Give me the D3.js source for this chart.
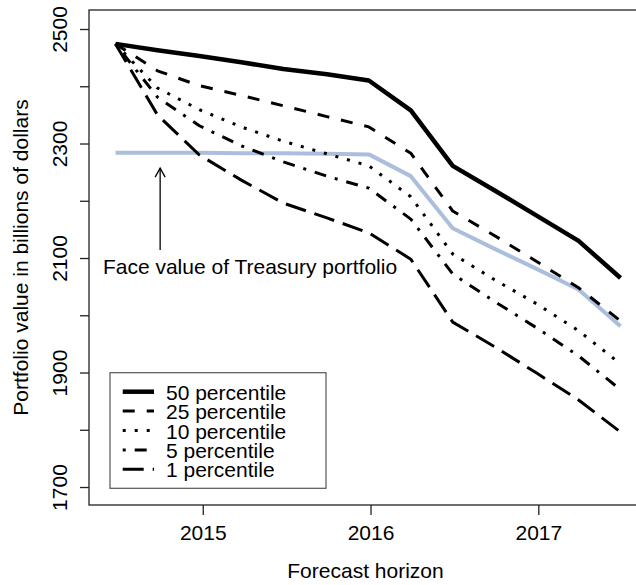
<!DOCTYPE html>
<html>
<head>
<meta charset="utf-8">
<script src="https://cdn.jsdelivr.net/npm/d3@7/dist/d3.min.js"></script>
<style>
  html, body { margin: 0; padding: 0; background: #fff; }
  svg { display: block; }
  text { font-family: "Liberation Sans", Arial, Helvetica, sans-serif; fill: #000; }
</style>
</head>
<body>
<svg id="chart" width="636" height="585"></svg>
<script>
// ---- data ----
const times = [2014.48, 2014.73, 2014.98, 2015.23, 2015.48, 2015.74, 2015.99, 2016.24, 2016.49, 2016.74, 2016.99, 2017.24, 2017.49];
const p50  = [2474, 2463, 2453, 2442, 2430, 2421, 2410, 2358, 2261, 2218, 2174, 2130, 2065];
const p25  = [2474, 2427, 2401, 2384, 2366, 2347, 2329, 2283, 2182, 2139, 2094, 2048, 1990];
const p10  = [2474, 2397, 2359, 2329, 2304, 2282, 2261, 2207, 2107, 2062, 2020, 1973, 1915];
const p5   = [2474, 2381, 2331, 2296, 2268, 2243, 2222, 2168, 2072, 2024, 1978, 1929, 1870];
const p1   = [2474, 2350, 2280, 2236, 2196, 2170, 2144, 2098, 1988, 1945, 1899, 1852, 1796];
const faceValue = [2284, 2284, 2284, 2283, 2283, 2282, 2281, 2243, 2152, 2116, 2081, 2045, 1981];
const seriesNames = ["50 percentile", "25 percentile", "10 percentile", "5 percentile", "1 percentile"];
const xTickValues = [2015, 2016, 2017];
const yTickValues = [1700, 1800, 1900, 2000, 2100, 2200, 2300, 2400, 2500];
const yTickLabels = [1700, 1900, 2100, 2300, 2500];
const annotationText = "Face value of Treasury portfolio";
const annotationAt = [2014.746, 2257];  // arrow tip (time, value)
const annotationFrom = 2114;            // arrow tail value

// ---- layout ----
const svg = d3.select("#chart");
const L = 89, R = 642, T = 10, B = 505;
const x = d3.scaleLinear().domain([2014.322, 2017.618]).range([L, R]);
const y = d3.scaleLinear().domain([1668.6, 2533.2]).range([B, T]);
const FS = 21;

const styles = [
  { w: 4.5, dash: null },
  { w: 3, dash: "12,12" },
  { w: 3, dash: "3,9" },
  { w: 3, dash: "3,9,12,9" },
  { w: 3, dash: "21,9" }
];
const series = [p50, p25, p10, p5, p1];

// face value line (drawn first, underneath)
const line = d3.line().x((d, i) => x(times[i])).y(d => y(d));
svg.append("path").datum(faceValue)
  .attr("d", line)
  .attr("fill", "none")
  .attr("stroke", "#abbfdc")
  .attr("stroke-width", 4)
  .attr("stroke-linejoin", "round");

series.forEach((s, k) => {
  svg.append("path").datum(s)
    .attr("d", line)
    .attr("fill", "none")
    .attr("stroke", "#000")
    .attr("stroke-width", styles[k].w)
    .attr("stroke-dasharray", styles[k].dash)
    .attr("stroke-linejoin", "round");
});

// plot box
svg.append("rect").attr("x", L).attr("y", T).attr("width", R - L).attr("height", B - T)
  .attr("fill", "none").attr("stroke", "#222").attr("stroke-width", 1.3);

// x axis
const xAxis = d3.axisBottom(x).tickValues(xTickValues).tickFormat(d3.format("d")).tickSize(10).tickPadding(6);
const gx = svg.append("g").attr("transform", `translate(0,${B})`).call(xAxis);
gx.select(".domain").remove();
gx.selectAll(".tick line").attr("stroke", "#222").attr("stroke-width", 1.3);
gx.selectAll(".tick text").attr("font-size", FS).attr("font-family", "Liberation Sans, Arial, sans-serif")
  .attr("dy", null).attr("y", 35);

// y axis
const yAxis = d3.axisLeft(y).tickValues(yTickValues)
  .tickFormat(d => yTickLabels.includes(d) ? d3.format("d")(d) : "").tickSize(9).tickPadding(0);
const gy = svg.append("g").attr("transform", `translate(${L},0)`).call(yAxis);
gy.select(".domain").remove();
gy.selectAll(".tick line").attr("stroke", "#222").attr("stroke-width", 1.3);
gy.selectAll(".tick text")
  .attr("font-size", FS).attr("font-family", "Liberation Sans, Arial, sans-serif")
  .attr("x", null).attr("dy", null)
  .attr("text-anchor", "middle")
  .attr("transform", `translate(${66.7 - L},0) rotate(-90)`);

// axis titles
svg.append("text").attr("x", (L + R) / 2).attr("y", 578).attr("text-anchor", "middle")
  .attr("font-size", FS).text("Forecast horizon");
svg.append("text").attr("transform", `translate(28.3,${(T + B) / 2}) rotate(-90)`)
  .attr("text-anchor", "middle").attr("font-size", FS)
  .text("Portfolio value in billions of dollars");

// annotation arrow
const ax = x(annotationAt[0]), ayTip = y(annotationAt[1]), ayTail = y(annotationFrom);
svg.append("line").attr("x1", ax).attr("x2", ax).attr("y1", ayTail).attr("y2", ayTip)
  .attr("stroke", "#000").attr("stroke-width", 1.3);
svg.append("path")
  .attr("d", `M${ax - 5},${ayTip + 9}L${ax},${ayTip}L${ax + 5},${ayTip + 9}`)
  .attr("fill", "none").attr("stroke", "#000").attr("stroke-width", 1.3);
svg.append("text").attr("x", 250).attr("y", 274).attr("text-anchor", "middle")
  .attr("font-size", FS).text(annotationText);

// legend
const lg = svg.append("g");
lg.append("rect").attr("x", 110).attr("y", 372.7).attr("width", 216).attr("height", 115.6)
  .attr("fill", "#fff").attr("stroke", "#555").attr("stroke-width", 1.2);
seriesNames.forEach((name, k) => {
  const cy = 391.7 + k * 19.4;
  lg.append("line").attr("x1", 122.7).attr("x2", 154).attr("y1", cy).attr("y2", cy)
    .attr("stroke", "#000").attr("stroke-width", styles[k].w)
    .attr("stroke-dasharray", styles[k].dash);
  lg.append("text").attr("x", 166).attr("y", cy + 8).attr("font-size", FS).text(name);
});
</script>
</body>
</html>
